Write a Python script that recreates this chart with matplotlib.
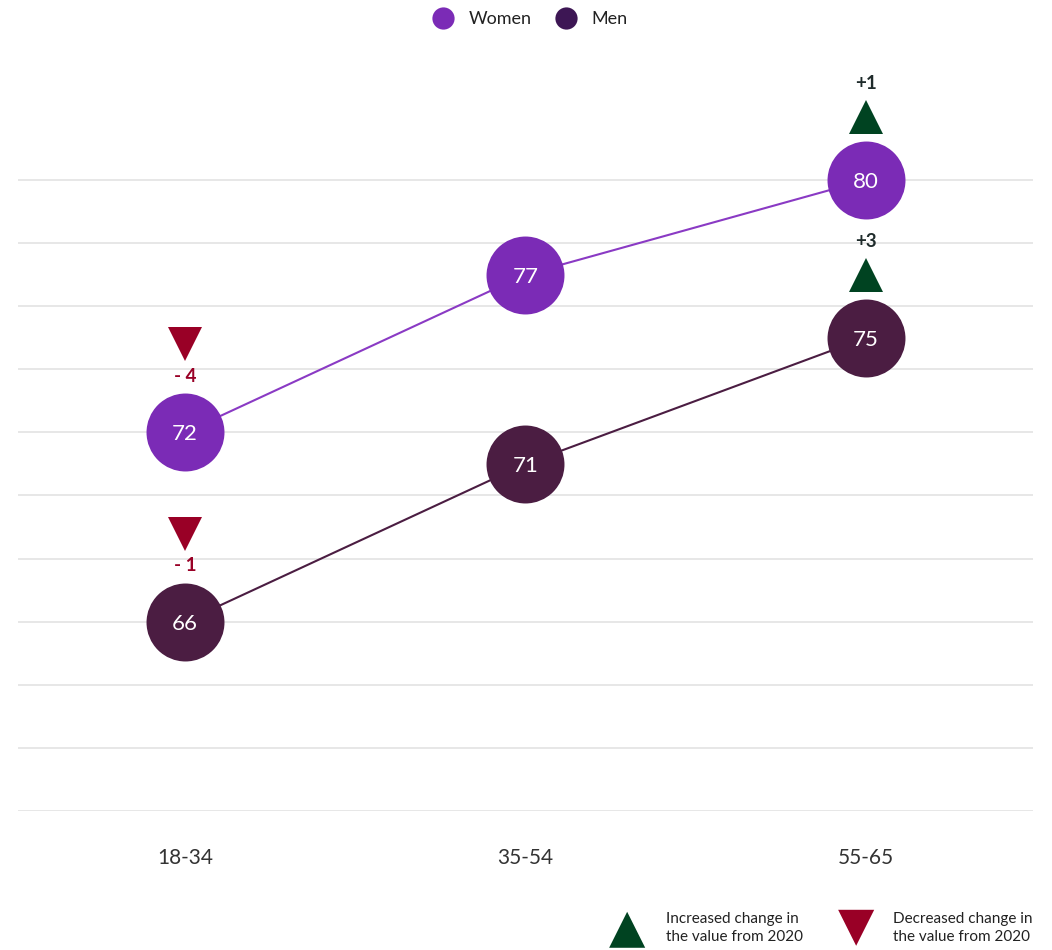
import numpy as np
import matplotlib
matplotlib.use('Agg')
import matplotlib.pyplot as plt
from matplotlib.lines import Line2D

plt.rcParams['font.family'] = ['Lato', 'DejaVu Sans']

# Data
age_groups = ['18-34', '35-54', '55-65']
women = [72, 77, 80]
men = [66, 71, 75]
women_change = [-4, None, 1]
men_change = [-1, None, 3]

women_color = '#7b2bb6'
men_color = '#4b1d42'
men_legend_color = '#3d1654'
up_color = '#004321'
down_color = '#990026'
grid_color = '#e3e3e3'

fig = plt.figure(figsize=(10.52, 9.5), dpi=100)
ax = fig.add_axes([18 / 1052, 1 - 811 / 950, 1015 / 1052, 761 / 950])

x = np.arange(len(age_groups))
ax.set_xlim(-0.49, 2.49)
ax.set_ylim(60, 84.12)

# horizontal gridlines every 2 units
for g in range(60, 82, 2):
    ax.axhline(g, color=grid_color, lw=1.2, zorder=0)

ax.plot(x, women, color='#8a3ac4', lw=1.5, zorder=2)
ax.plot(x, men, color=men_color, lw=1.5, zorder=2)
ax.scatter(x, women, s=3150, color=women_color, zorder=3, linewidths=0)
ax.scatter(x, men, s=3150, color=men_color, zorder=3, linewidths=0)

for xi, v in zip(x, women):
    ax.text(xi, v, str(v), ha='center', va='center_baseline', color='white', fontsize=16, zorder=4)
for xi, v in zip(x, men):
    ax.text(xi, v, str(v), ha='center', va='center_baseline', color='white', fontsize=16, zorder=4)

# change markers
unit = 31.55  # px per value unit
for series, changes in ((women, women_change), (men, men_change)):
    for xi, v, c in zip(x, series, changes):
        if c is None:
            continue
        if c < 0:
            ax.plot(xi, v + 88 / unit, marker='v', ms=25, color=down_color, mew=0, zorder=4, clip_on=False)
            ax.text(xi, v + 56 / unit, '- %d' % abs(c), ha='center', va='center', color=down_color,
                    fontsize=13.5, fontweight='bold', clip_on=False)
        else:
            ax.plot(xi, v + 63 / unit, marker='^', ms=25, color=up_color, mew=0, zorder=4, clip_on=False)
            ax.text(xi, v + 96 / unit, '+%d' % c, ha='center', va='center', color='#1f2b2b',
                    fontsize=13.5, fontweight='bold', clip_on=False)

ax.set_xticks(x)
ax.set_xticklabels(age_groups, fontsize=15, color='#333333')
ax.tick_params(axis='x', length=0, pad=27)
ax.set_yticks([])
for s in ax.spines.values():
    s.set_visible(False)

# top legend
handles = [Line2D([], [], marker='o', ls='', ms=16, color=women_color, mew=0),
           Line2D([], [], marker='o', ls='', ms=16, color=men_legend_color, mew=0)]
fig.legend(handles, ['Women', 'Men'], loc='center', bbox_to_anchor=(526 / 1052, 1 - 19 / 950),
           ncol=2, frameon=False, fontsize=13, handletextpad=0.4, columnspacing=0.9,
           labelcolor='#222222')

# bottom legend
fig.text(627 / 1052, 1 - 929 / 950, '\u25B2', ha='center', va='center', fontsize=34, color=up_color,
         family='DejaVu Sans')
fig.text(666 / 1052, 1 - 928 / 950, 'Increased change in\nthe value from 2020', ha='left', va='center',
         fontsize=11, color='#222222', linespacing=1.45)
fig.text(856 / 1052, 1 - 927 / 950, '\u25BC', ha='center', va='center', fontsize=34, color=down_color,
         family='DejaVu Sans')
fig.text(893 / 1052, 1 - 928 / 950, 'Decreased change in\nthe value from 2020', ha='left', va='center',
         fontsize=11, color='#222222', linespacing=1.45)

fig.savefig('out.png', dpi=100, facecolor='white')
